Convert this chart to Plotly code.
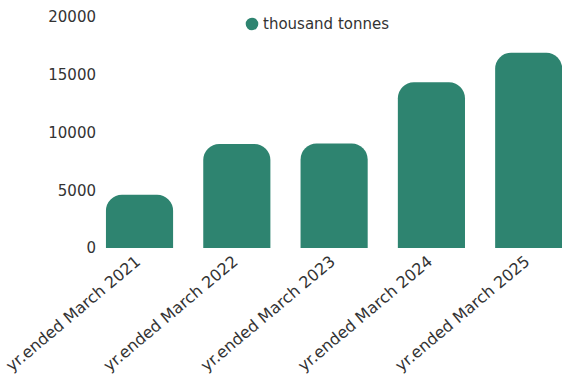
import plotly.graph_objects as go

# Annual volume, thousand tonnes
categories = [
    "yr.ended March 2021",
    "yr.ended March 2022",
    "yr.ended March 2023",
    "yr.ended March 2024",
    "yr.ended March 2025",
]
values = [4600, 9000, 9050, 14350, 16900]
y_ticks = [0, 5000, 10000, 15000, 20000]
y_tick_labels = ["0", "5000", "10000", "15000", "20000"]
series_name = "thousand tonnes"

BAR_COLOR = "#2e8470"
TEXT_COLOR = "#333333"
FONT = "Verdana, DejaVu Sans, sans-serif"

W, H = 562, 378
M_L, M_R, M_T, M_B = 97, 0, 17, 130

fig = go.Figure()
fig.add_trace(go.Bar(
    x=categories,
    y=values,
    name=series_name,
    width=0.69,
    marker=dict(color=BAR_COLOR, cornerradius=16, line=dict(width=0)),
    showlegend=False,
))

# legend-style key: dot + label
plot_w = W - M_L - M_R
plot_h = H - M_T - M_B
key_y = (H - M_B - 24) / plot_h
fig.add_shape(
    type="circle", xref="paper", yref="paper",
    xsizemode="pixel", ysizemode="pixel",
    xanchor=(252 - M_L) / plot_w, yanchor=key_y,
    x0=-6.3, x1=6.3, y0=-6.3, y1=6.3,
    fillcolor=BAR_COLOR, line=dict(width=0),
)
fig.add_annotation(
    x=(261 - M_L) / plot_w, y=key_y, xref="paper", yref="paper",
    xanchor="left", yanchor="middle", showarrow=False,
    text=series_name, font=dict(family=FONT, size=15, color=TEXT_COLOR),
)

fig.update_layout(
    width=W, height=H,
    margin=dict(l=M_L, r=M_R, t=M_T, b=M_B, autoexpand=False),
    paper_bgcolor="white", plot_bgcolor="white",
    font=dict(family=FONT, size=15, color=TEXT_COLOR),
    showlegend=False,
)
fig.update_xaxes(
    type="category", range=[-0.437, 4.342],
    tickangle=-40, ticklabelshift=-3,
    showgrid=False, zeroline=False, showline=False, ticks="",
    tickfont=dict(family=FONT, size=16, color=TEXT_COLOR),
)
fig.update_yaxes(
    range=[0, 20000], tickvals=y_ticks, ticktext=y_tick_labels,
    showgrid=False, zeroline=False, showline=False, ticks="",
    tickfont=dict(family=FONT, size=15, color=TEXT_COLOR),
)

fig.write_html("out.html")
